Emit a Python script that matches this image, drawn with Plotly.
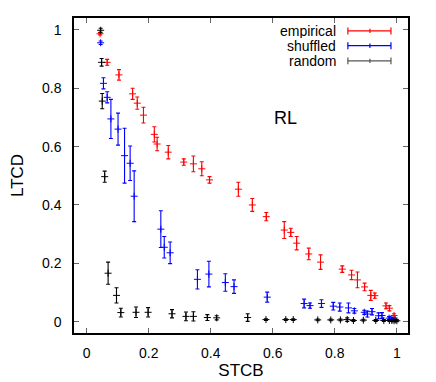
import plotly.graph_objects as go

# values
empirical_x = [0.043, 0.066, 0.104, 0.148, 0.163, 0.183, 0.218, 0.227, 0.263, 0.313,
               0.344, 0.371, 0.396, 0.489, 0.534, 0.579, 0.637, 0.658, 0.677, 0.716,
               0.754, 0.824, 0.854, 0.873, 0.896, 0.916, 0.929, 0.965, 0.976, 0.991]
empirical_y = [0.987, 0.889, 0.846, 0.781, 0.749, 0.708, 0.642, 0.609, 0.581, 0.547,
               0.541, 0.524, 0.486, 0.454, 0.400, 0.360, 0.314, 0.306, 0.269, 0.232,
               0.204, 0.180, 0.160, 0.143, 0.119, 0.090, 0.089, 0.054, 0.046, 0.021]
empirical_err = [0.004, 0.010, 0.018, 0.019, 0.021, 0.027, 0.026, 0.023, 0.023, 0.011,
                 0.027, 0.024, 0.011, 0.024, 0.022, 0.014, 0.029, 0.014, 0.023, 0.020,
                 0.025, 0.011, 0.016, 0.027, 0.013, 0.017, 0.009, 0.010, 0.009, 0.006]

shuffled_x = [0.045, 0.054, 0.066, 0.078, 0.101, 0.122, 0.140, 0.153, 0.239, 0.250,
              0.269, 0.357, 0.394, 0.447, 0.475, 0.582, 0.701, 0.720, 0.757, 0.795,
              0.816, 0.844, 0.863, 0.895, 0.905, 0.920, 0.941, 0.952, 0.975, 0.984, 0.995]
shuffled_y = [0.956, 0.817, 0.769, 0.695, 0.660, 0.569, 0.543, 0.430, 0.317, 0.255,
              0.236, 0.145, 0.163, 0.134, 0.120, 0.084, 0.062, 0.055, 0.062, 0.053,
              0.050, 0.047, 0.037, 0.032, 0.026, 0.034, 0.020, 0.021, 0.012, 0.008, 0.006]
shuffled_err = [0.006, 0.019, 0.019, 0.067, 0.055, 0.094, 0.059, 0.087, 0.063, 0.037,
                0.037, 0.033, 0.044, 0.030, 0.023, 0.017, 0.015, 0.009, 0.013, 0.013,
                0.014, 0.017, 0.008, 0.007, 0.010, 0.011, 0.010, 0.010, 0.005, 0.004, 0.003]

random_x = [0.045, 0.048, 0.050, 0.058, 0.069, 0.096, 0.110, 0.159, 0.198, 0.275,
            0.320, 0.344, 0.389, 0.419, 0.519, 0.578, 0.642, 0.666, 0.745, 0.787,
            0.818, 0.840, 0.860, 0.892, 0.932, 0.958, 0.976, 0.984, 0.991, 1.0]
random_y = [0.999, 0.889, 0.756, 0.497, 0.166, 0.090, 0.031, 0.032, 0.032, 0.027,
            0.018, 0.018, 0.014, 0.013, 0.014, 0.007, 0.007, 0.007, 0.006, 0.006,
            0.006, 0.007, 0.004, 0.005, 0.004, 0.004, 0.004, 0.004, 0.003, 0.003]
random_err = [0.007, 0.013, 0.026, 0.019, 0.038, 0.026, 0.015, 0.018, 0.016, 0.014,
              0.015, 0.016, 0.010, 0.007, 0.013, 0.003, 0.003, 0.003, 0.003, 0.003,
              0.003, 0.006, 0.003, 0.003, 0.003, 0.003, 0.003, 0.003, 0.003, 0.003]

series = [
    ("empirical", empirical_x, empirical_y, empirical_err, "#ff0000"),
    ("shuffled", shuffled_x, shuffled_y, shuffled_err, "#0000ff"),
    ("random", random_x, random_y, random_err, "#000000"),
]

FONT = "Liberation Sans, Arial, sans-serif"

fig = go.Figure()
for name, xs, ys, errs, color in series:
    fig.add_trace(go.Scatter(
        x=xs, y=ys, name=name, mode="markers",
        marker=dict(symbol="cross-thin", size=5, color=color,
                    line=dict(color=color, width=1)),
        error_y=dict(type="data", array=errs, visible=True,
                     color=color, thickness=1.1, width=2),
        showlegend=False,
    ))

# hand-made legend in gnuplot style: right-aligned text, sample on the right
legend_y = [0.959, 0.912, 0.864]
shapes = []
annotations = []
for (name, _, _, _, color), ly in zip(series, legend_y):
    c = "#555555" if color == "#000000" else color
    annotations.append(dict(x=0.790, y=ly, xref="paper", yref="paper", text=name,
                            showarrow=False, xanchor="right", yanchor="middle", height=14,
                            font=dict(size=14, color="black", family=FONT)))
    shapes.append(dict(type="line", xref="paper", yref="paper",
                       x0=0.820, x1=0.949, y0=ly, y1=ly, line=dict(color=c, width=1.2)))
    for lx, h in [(0.820, 0.011), (0.949, 0.011), (0.886, 0.007)]:
        shapes.append(dict(type="line", xref="paper", yref="paper",
                           x0=lx, x1=lx, y0=ly - h, y1=ly + h, line=dict(color=c, width=1.2)))

annotations.append(dict(x=0.64, y=0.698, xref="x", yref="y", text="RL", showarrow=False,
                        font=dict(size=18, color="black", family=FONT)))

axis_style = dict(
    showgrid=False, zeroline=False, showline=True, linecolor="black", linewidth=1.5,
    mirror="ticks", ticks="inside", ticklen=5, tickcolor="#666666", tickwidth=1,
    dtick=0.2, tick0=0, tickfont=dict(size=14, color="black", family=FONT),
    automargin=False,
)

# the page body adds an 8px margin, so the figure is 8px smaller than the window
fig.update_layout(
    width=428, height=374,
    margin=dict(l=66, r=28, t=10, b=49),
    paper_bgcolor="white", plot_bgcolor="white",
    font=dict(family=FONT, color="black"),
    shapes=shapes, annotations=annotations,
    xaxis=dict(range=[-0.041, 1.036], title=dict(text="STCB", font=dict(size=17), standoff=4),
               ticklabelstandoff=6, **axis_style),
    yaxis=dict(range=[-0.039, 1.041], title=dict(text="LTCD", font=dict(size=17), standoff=14),
               ticklabelstandoff=8, **axis_style),
)

fig.write_html("out.html")
